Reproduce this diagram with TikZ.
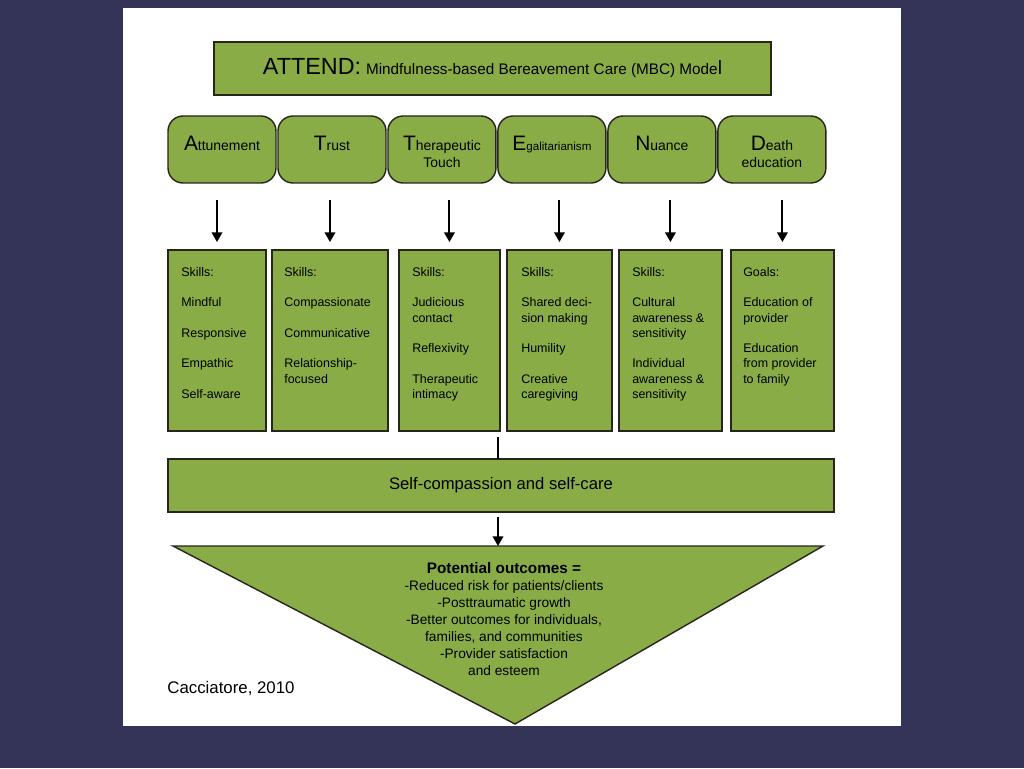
\documentclass[tikz,border=0pt]{standalone}
\usepackage{fontspec}
\setmainfont{Liberation Sans}
\usetikzlibrary{positioning, arrows.meta}

\definecolor{slidebg}{RGB}{52,52,88}
\definecolor{mbcgreen}{RGB}{137,172,70}
\definecolor{mbcline}{RGB}{38,38,28}

\newcommand\initial[1]{{\fontsize{11.9pt}{12pt}\selectfont #1}}
\newcommand\twolines[2]{\begin{tabular}[t]{@{}c@{}}#1\\#2\end{tabular}}
\def\sg{8.7pt}

\begin{document}
\begin{tikzpicture}[x=0.02cm, y=-0.02cm, >={Triangle[length=5.5pt, width=6pt]}]
            % Block styles
            \tikzstyle{greenbox} = [draw=mbcline, fill=mbcgreen, line width=0.8pt, outer sep=0pt, inner sep=0pt]
            \tikzstyle{topbox} = [greenbox, rounded corners=0.3cm, minimum width=2.16cm, minimum height=1.34cm, text height=8.5pt, text depth=7.9pt, font=\fontsize{7.94pt}{10.2pt}\selectfont]
            \tikzstyle{skillbox} = [greenbox, minimum height=3.62cm]
            \tikzstyle{skilltext} = [anchor=north west, inner sep=0pt, align=left, font=\fontsize{7.09pt}{8.67pt}\selectfont]
            \tikzstyle{flow} = [line width=1.1pt]

            % Slide and page
            \useasboundingbox (0,0) rectangle (1024,768);
            \fill[slidebg] (0,0) rectangle (1024,768);
            \fill[white] (123,8) rectangle (901,726);

            % Title
            \node[greenbox, minimum width=11.14cm, minimum height=1.06cm] (title) at (492.5,68.5)
                {{\fontsize{13.3pt}{14pt}\selectfont ATTEND:} {\fontsize{8.7pt}{10pt}\selectfont Mindfulness-based Bereavement Care (MBC) Mode}{\fontsize{11pt}{12pt}\selectfont l}};

            % ATTEND components
            \node[topbox] (att) at (222,149.5) {\initial{A}ttunement};
            \node[topbox, right=0.04cm of att] (tru) {\initial{T}rust};
            \node[topbox, right=0.04cm of tru] (thr) {\twolines{\initial{T}herapeutic}{Touch}};
            \node[topbox, right=0.04cm of thr] (ega) {\initial{E}{\fontsize{6.6pt}{8pt}\selectfont galitarianism}};
            \node[topbox, right=0.04cm of ega] (nua) {\initial{N}uance};
            \node[topbox, right=0.04cm of nua] (dea) {\twolines{\initial{D}eath}{education}};

            % Skills and goals
            \node[skillbox, minimum width=1.96cm] (s1) at (217,340.5) {};
            \node[skillbox, minimum width=2.32cm, right=0.12cm of s1] (s2) {};
            \node[skillbox, minimum width=2.02cm, right=0.22cm of s2] (s3) {};
            \node[skillbox, minimum width=2.10cm, right=0.14cm of s3] (s4) {};
            \node[skillbox, minimum width=2.06cm, right=0.14cm of s4] (s5) {};
            \node[skillbox, minimum width=2.06cm, right=0.18cm of s5] (s6) {};

            \node[skilltext] (t1) at ([shift={(13,17)}]s1.north west)
                {Skills:\\[\sg]Mindful\\[\sg]Responsive\\[\sg]Empathic\\[\sg]Self-aware};
            \node[skilltext] (t2) at ([shift={(12,17)}]s2.north west)
                {Skills:\\[\sg]Compassionate\\[\sg]Communicative\\[\sg]Relationship-\\focused};
            \node[skilltext] (t3) at ([shift={(13,17)}]s3.north west)
                {Skills:\\[\sg]Judicious\\contact\\[\sg]Reflexivity\\[\sg]Therapeutic\\intimacy};
            \node[skilltext] (t4) at ([shift={(14,17)}]s4.north west)
                {Skills:\\[\sg]Shared deci-\\sion making\\[\sg]Humility\\[\sg]Creative\\caregiving};
            \node[skilltext] (t5) at ([shift={(13,17)}]s5.north west)
                {Skills:\\[\sg]Cultural\\awareness \&\\sensitivity\\[\sg]Individual\\awareness \&\\sensitivity};
            \node[skilltext] (t6) at ([shift={(12,17)}]s6.north west)
                {Goals:\\[\sg]Education of\\provider\\[\sg]Education\\from provider\\to family};

            % Component to skills
            \draw[flow, ->, shorten <=0.34cm, shorten >=0.16cm] (s1.north |- att.south) -- (s1.north);
            \draw[flow, ->, shorten <=0.34cm, shorten >=0.16cm] (s2.north |- tru.south) -- (s2.north);
            \draw[flow, ->, shorten <=0.34cm, shorten >=0.16cm] (s3.north |- thr.south) -- (s3.north);
            \draw[flow, ->, shorten <=0.34cm, shorten >=0.16cm] (s4.north |- ega.south) -- (s4.north);
            \draw[flow, ->, shorten <=0.34cm, shorten >=0.16cm] (s5.north |- nua.south) -- (s5.north);
            \draw[flow, ->, shorten <=0.34cm, shorten >=0.16cm] (s6.north |- dea.south) -- (s6.north);

            % Self-care
            \node[greenbox, minimum width=13.32cm, minimum height=1.06cm, font=\fontsize{9.47pt}{11pt}\selectfont] (self) at (501,485.5)
                {Self-compassion and self-care};
            \coordinate (join) at (498,437);
            \draw[flow] (join) -- (join |- self.north);

            % Outcomes triangle
            \coordinate (tl) at (173,546);
            \coordinate (tr) at (823,546);
            \coordinate (tb) at (515,724);
            \filldraw[draw=mbcline, fill=mbcgreen, line width=0.8pt] (tl) -- (tr) -- (tb) -- cycle;
            \coordinate (drop) at (498,517);
            \draw[flow, ->] (drop) -- (drop |- tl);

            \node[anchor=north, inner sep=0pt, align=center, font=\fontsize{7.8pt}{9.64pt}\selectfont] (outc) at (504,562)
                {{\fontsize{8.7pt}{9.64pt}\selectfont\bfseries Potential outcomes =}\\
                 -Reduced risk for patients/clients\\
                 -Posttraumatic growth\\
                 -Better outcomes for individuals,\\
                 families, and communities\\
                 -Provider satisfaction\\
                 and esteem};

            % Source
            \node[anchor=base west, inner sep=0pt, font=\fontsize{9.58pt}{11pt}\selectfont] (cite) at (167,693) {Cacciatore, 2010};
\end{tikzpicture}
\end{document}
